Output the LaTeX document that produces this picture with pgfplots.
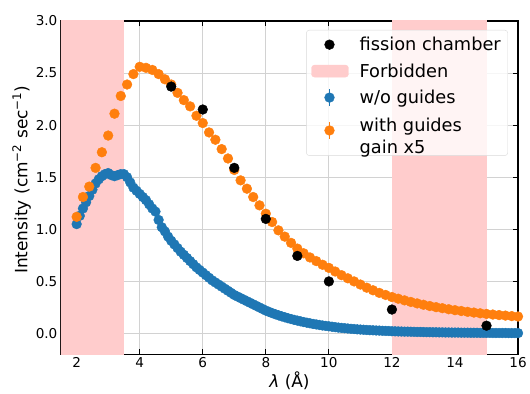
\documentclass[border=0pt]{standalone}
\usepackage{pgfplots}
\pgfplotsset{compat=1.18}
\usepackage{pgfplotstable}
\usepackage{fontspec}
\setmainfont{DejaVu Sans}
\definecolor{mblue}{HTML}{1F77B4}
\definecolor{morange}{HTML}{FF7F0E}
\definecolor{forbid}{RGB}{255,204,204}

\pgfplotstableread{
x y
2.0 1.05
2.1 1.13
2.2 1.20
2.3 1.26
2.4 1.32
2.5 1.38
2.6 1.44
2.7 1.48
2.8 1.51
2.9 1.53
3.0 1.54
3.1 1.52
3.2 1.51
3.3 1.52
3.4 1.53
3.5 1.53
3.6 1.50
3.7 1.45
3.8 1.40
3.9 1.37
4.0 1.34
4.1 1.31
4.2 1.28
4.3 1.24
4.4 1.20
4.5 1.17
4.6 1.09
4.7 1.02
4.8 0.98
4.9 0.93
5.0 0.89
5.1 0.855
5.2 0.82
5.3 0.785
5.4 0.755
5.5 0.725
5.6 0.695
5.7 0.665
5.8 0.635
5.9 0.61
6.0 0.585
6.1 0.56
6.2 0.535
6.3 0.51
6.4 0.49
6.5 0.47
6.6 0.45
6.7 0.43
6.8 0.41
6.9 0.39
7.0 0.37
7.1 0.355
7.2 0.34
7.3 0.325
7.4 0.31
7.5 0.295
7.6 0.28
7.7 0.265
7.8 0.25
7.9 0.235
8.0 0.22
8.1 0.208
8.2 0.196
8.3 0.185
8.4 0.175
8.5 0.165
8.6 0.156
8.7 0.147
8.8 0.139
8.9 0.131
9.0 0.124
9.1 0.117
9.2 0.110
9.3 0.104
9.4 0.098
9.5 0.092
9.6 0.087
9.7 0.082
9.8 0.077
9.9 0.073
10.0 0.069
10.1 0.065
10.2 0.061
10.3 0.057
10.4 0.054
10.5 0.051
10.6 0.048
10.7 0.045
10.8 0.043
10.9 0.040
11.0 0.038
11.1 0.036
11.2 0.034
11.3 0.032
11.4 0.031
11.5 0.029
11.6 0.028
11.7 0.026
11.8 0.025
11.9 0.024
12.0 0.022
12.1 0.021
12.2 0.020
12.3 0.019
12.4 0.018
12.5 0.018
12.6 0.017
12.7 0.016
12.8 0.015
12.9 0.015
13.0 0.014
13.1 0.013
13.2 0.013
13.3 0.012
13.4 0.012
13.5 0.011
13.6 0.011
13.7 0.010
13.8 0.010
13.9 0.009
14.0 0.009
14.1 0.009
14.2 0.008
14.3 0.008
14.4 0.008
14.5 0.007
14.6 0.007
14.7 0.007
14.8 0.006
14.9 0.006
15.0 0.006
15.1 0.006
15.2 0.005
15.3 0.005
15.4 0.005
15.5 0.005
15.6 0.005
15.7 0.004
15.8 0.004
15.9 0.004
16.0 0.004
}\noguides

\pgfplotstableread{
x y
2.0 1.12
2.2 1.31
2.4 1.41
2.6 1.59
2.8 1.74
3.0 1.90
3.2 2.11
3.4 2.28
3.6 2.39
3.8 2.49
4.0 2.56
4.2 2.55
4.4 2.53
4.6 2.49
4.8 2.44
5.0 2.39
5.2 2.31
5.4 2.24
5.6 2.18
5.8 2.09
6.0 2.02
6.2 1.93
6.4 1.86
6.6 1.77
6.8 1.68
7.0 1.57
7.2 1.47
7.4 1.39
7.6 1.31
7.8 1.23
8.0 1.15
8.2 1.07
8.4 0.99
8.6 0.93
8.8 0.87
9.0 0.815
9.2 0.77
9.4 0.73
9.6 0.695
9.8 0.66
10.0 0.63
10.2 0.595
10.4 0.56
10.6 0.53
10.8 0.50
11.0 0.47
11.2 0.44
11.4 0.415
11.6 0.39
11.8 0.37
12.0 0.35
12.2 0.334
12.4 0.318
12.6 0.303
12.8 0.289
13.0 0.276
13.2 0.264
13.4 0.253
13.6 0.243
13.8 0.233
14.0 0.224
14.2 0.216
14.4 0.208
14.6 0.201
14.8 0.194
15.0 0.188
15.2 0.182
15.4 0.177
15.6 0.172
15.8 0.167
16.0 0.163
}\withguides

\pgfplotstableread{
x y
5 2.37
6 2.15
7 1.59
8 1.10
9 0.745
10 0.50
12 0.23
15 0.075
}\fission

\begin{document}
\begin{tikzpicture}
\begin{axis}[
  width=458pt, height=334pt, scale only axis,
  xmin=1.5, xmax=16, ymin=-0.2, ymax=3.0,
  xtick={2,4,...,16},
  ytick={0,0.5,...,3.0},
  yticklabel style={/pgf/number format/.cd, fixed, fixed zerofill, precision=1},
  /pgf/number format/assume math mode=true,
  ticklabel style={font=\fontsize{13.6}{16}\selectfont},
  tick align=inside,
  major tick length=5pt,
  tick style={black, line width=0.8pt},
  axis line style={line width=1.6pt},
  grid=major,
  major grid style={gray!35, line width=0.8pt},
  xlabel={{\itshape λ} (Å)},
  ylabel={Intensity (cm\textsuperscript{−2} sec\textsuperscript{−1})},
  label style={font=\fontsize{17}{20}\selectfont},
  ylabel style={yshift=-2pt, xshift=8pt},
  xlabel style={yshift=3pt},
  legend style={at={(0.978,0.973)}, anchor=north east, draw=gray!30, rounded corners=3pt,
    fill=white, fill opacity=0.8, draw opacity=1, text opacity=1,
    font=\fontsize{17.8}{22}\selectfont, row sep=7.5pt, inner sep=5pt},
  legend cell align=left,
]
\addplot[fill=forbid, draw=none, forget plot] coordinates {(1,-1) (3.5,-1) (3.5,4) (1,4)} -- cycle;
\addplot[fill=forbid, draw=none, forget plot] coordinates {(12,-1) (15,-1) (15,4) (12,4)} -- cycle;
\addplot[only marks, mark=*, mark size=4.9pt, mblue, mark options={draw=none, fill=mblue}, forget plot] table {\noguides};
\addplot[only marks, mark=*, mark size=4.9pt, morange, mark options={draw=none, fill=morange}, forget plot] table {\withguides};
\addplot[only marks, mark=*, mark size=4.9pt, black, mark options={draw=none, fill=black}, forget plot] table {\fission};

\addlegendimage{legend image code/.code={\fill[black, fill opacity=1] (18pt,0pt) circle (4.9pt); \path (0pt,0pt) (46pt,0pt);}}
\addlegendentry{fission chamber}
\addlegendimage{legend image code/.code={\fill[forbid, fill opacity=1] (0pt,-6pt) rectangle (37pt,6pt); \path (0pt,0pt) (46pt,0pt);}}
\addlegendentry{Forbidden}
\addlegendimage{legend image code/.code={\draw[mblue, line width=1.5pt, draw opacity=1] (18pt,-8.5pt) -- (18pt,8.5pt); \fill[mblue, fill opacity=1] (18pt,0pt) circle (4.9pt); \path (0pt,0pt) (46pt,0pt);}}
\addlegendentry{w/o guides}
\addlegendimage{legend image code/.code={\draw[morange, line width=1.5pt, draw opacity=1] (18pt,-8.5pt) -- (18pt,8.5pt); \fill[morange, fill opacity=1] (18pt,0pt) circle (4.9pt); \path (0pt,0pt) (46pt,0pt) (0pt,-20pt);}}
\addlegendentry{\begin{tabular}{@{}l@{}}with guides\\gain x5\end{tabular}}
\node[anchor=south west, inner sep=0pt, font=\fontsize{13.6}{16}\selectfont] at (rel axis cs:0,1) [yshift=3pt] {1e7};
\end{axis}
\path (current axis.south west) +(-61pt,-39pt) (current axis.north east) +(11pt,21pt);
\end{tikzpicture}
\end{document}
